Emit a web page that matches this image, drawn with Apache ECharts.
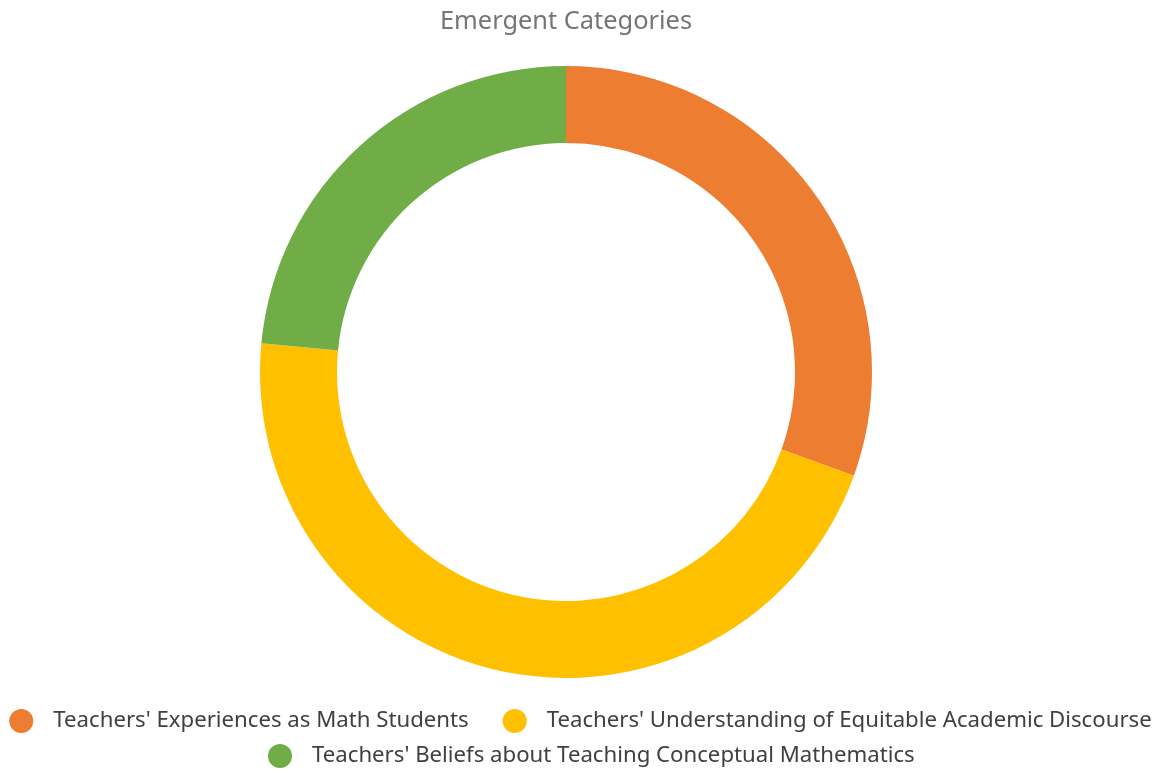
<!DOCTYPE html>
<html><head><meta charset="utf-8">
<script src="https://cdn.jsdelivr.net/npm/echarts@6/dist/echarts.min.js"></script>
<style>html,body{margin:0;padding:0;background:#fff}#c{width:1161px;height:774px}</style>
</head><body><div id="c"></div>
<script>
const categories = ["Teachers' Experiences as Math Students", "Teachers' Understanding of Equitable Academic Discourse", "Teachers' Beliefs about Teaching Conceptual Mathematics"];
const values = [30.5, 46.0, 23.5];
const colors = ['#ED7D31', '#FFC000', '#70AD47'];
const titleText = 'Emergent Categories';

const chart = echarts.init(document.getElementById('c'));
const font = 'Noto Sans';
const legendBase = {
  icon: 'circle', itemWidth: 24, itemHeight: 24, itemGap: 34,
  textStyle: { fontFamily: font, fontSize: 22.2, color: '#404040', padding: [0, 0, 0, 15], lineHeight: 24 },
  selectedMode: false
};
chart.setOption({
  animation: false,
  color: colors,
  title: { text: titleText, left: 435, top: 4,
    textStyle: { fontFamily: font, fontSize: 25.4, fontWeight: 'normal', color: '#757575' } },
  legend: [
    Object.assign({}, legendBase, { data: categories.slice(0, 2), left: 'center', top: 704 }),
    Object.assign({}, legendBase, { data: categories.slice(2), left: 263, top: 739 })
  ],
  series: [{
    type: 'pie', center: [566, 372], radius: [229, 306], startAngle: 90, clockwise: true,
    label: { show: false }, labelLine: { show: false },
    itemStyle: { borderWidth: 0 },
    data: categories.map((c, i) => ({ name: c, value: values[i] }))
  }]
});
</script></body></html>
